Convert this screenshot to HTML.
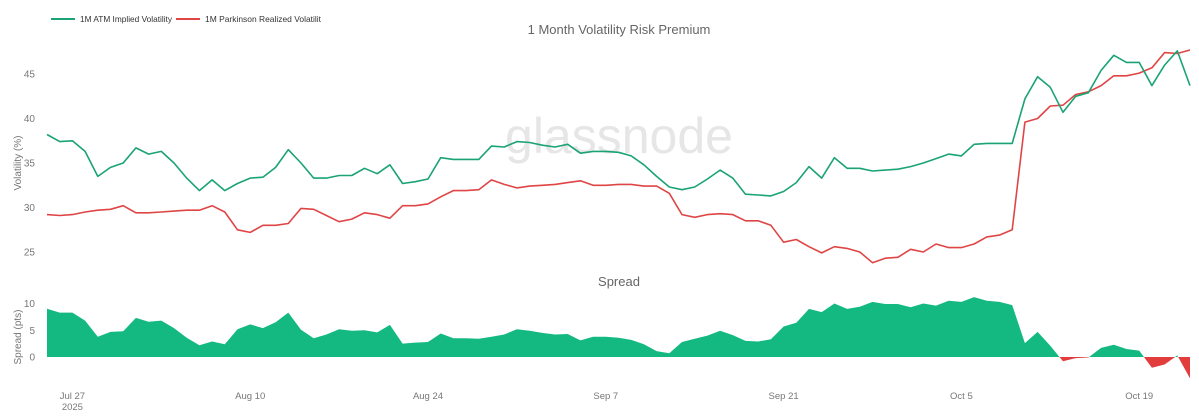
<!DOCTYPE html>
<html><head><meta charset="utf-8"><style>
body{margin:0;background:#fff;}
svg{display:block;font-family:"Liberation Sans",sans-serif;}
</style></head><body>
<svg id="chart" width="1199" height="420" viewBox="0 0 1199 420">
<text x="619" y="153" text-anchor="middle" font-size="50" fill="#e6e6e6">glassnode</text>
<g>
<line x1="51" y1="19" x2="75" y2="19" stroke="#1aa373" stroke-width="2"/>
<text x="80" y="22" font-size="8.5" fill="#333" textLength="92" lengthAdjust="spacingAndGlyphs">1M ATM Implied Volatility</text>
<line x1="176" y1="19" x2="200" y2="19" stroke="#e04545" stroke-width="2"/>
<text x="205" y="22" font-size="8.5" fill="#333" textLength="116" lengthAdjust="spacingAndGlyphs">1M Parkinson Realized Volatilit</text>
</g>
<text x="619" y="34" text-anchor="middle" font-size="13" fill="#666">1 Month Volatility Risk Premium</text>
<text x="619" y="286" text-anchor="middle" font-size="13" fill="#666">Spread</text>
<text transform="translate(21,163) rotate(-90)" text-anchor="middle" font-size="10" fill="#777">Volatility (%)</text>
<text transform="translate(21,337) rotate(-90)" text-anchor="middle" font-size="10" fill="#777">Spread (pts)</text>
<g id="yticks"></g><g id="sticks"></g><g id="xticks"></g>
<defs>
<clipPath id="clipPos"><rect x="0" y="0" width="1199" height="357"/></clipPath>
<clipPath id="clipNeg"><rect x="0" y="357" width="1199" height="63"/></clipPath>
</defs>
<g id="spread"></g>
<g id="lines"></g>
</svg>
<script>
const iv=[38.2,37.4,37.5,36.3,33.5,34.5,35.0,36.7,36.0,36.3,35.0,33.3,31.9,33.1,31.9,32.7,33.3,33.4,34.5,36.5,35.0,33.3,33.3,33.6,33.6,34.4,33.8,34.8,
32.7,32.9,33.2,35.6,35.4,35.4,35.4,36.9,36.8,37.4,37.3,37.0,36.8,37.1,36.1,36.3,36.3,36.2,35.8,34.8,33.5,32.3,32.0,32.3,33.2,34.2,33.3,31.5,31.4,31.3,31.8,32.8,
34.6,33.3,35.6,34.4,34.4,34.1,34.2,34.3,34.6,35.0,35.5,36.0,35.8,37.1,37.2,37.2,37.2,42.2,44.7,43.5,40.7,42.5,42.9,45.4,47.1,46.3,46.3,43.7,46.0,47.6,43.7];
const rv=[29.2,29.1,29.2,29.5,29.7,29.8,30.2,29.4,29.4,29.5,29.6,29.7,29.7,30.2,29.5,27.5,27.2,28.0,28.0,28.2,29.9,29.8,29.1,28.4,28.7,29.4,29.2,28.8,
30.2,30.2,30.4,31.2,31.9,31.9,32.0,33.1,32.6,32.2,32.4,32.5,32.6,32.8,33.0,32.5,32.5,32.6,32.6,32.4,32.4,31.6,29.2,28.9,29.2,29.3,29.2,28.5,28.5,28.0,26.1,26.4,
25.6,24.9,25.6,25.4,25.0,23.8,24.3,24.4,25.3,25.0,25.9,25.5,25.5,25.9,26.7,26.9,27.5,39.6,40.0,41.4,41.5,42.7,43.0,43.7,44.8,44.8,45.1,45.7,47.4,47.3,47.7];
const yTicks=[25,30,35,40,45];
const sTicks=[0,5,10];
const xLabels=[{i:2,t:"Jul 27"},{i:16,t:"Aug 10"},{i:30,t:"Aug 24"},{i:44,t:"Sep 7"},{i:58,t:"Sep 21"},{i:72,t:"Oct 5"},{i:86,t:"Oct 19"}];
const NS="http://www.w3.org/2000/svg";
const X=i=>47+i*(1190-47)/(iv.length-1);
const Y=v=>74+(45-v)*8.9;
const S=v=>357-v*5.35;
function mk(tag,attrs,parent,txt){const e=document.createElementNS(NS,tag);for(const k in attrs)e.setAttribute(k,attrs[k]);if(txt!==undefined)e.textContent=txt;document.getElementById(parent).appendChild(e);return e;}
yTicks.forEach(v=>{const e=mk('text',{x:35,y:Y(v)+3.5,'text-anchor':'end','font-size':10,fill:'#777'},'yticks',v);

});
sTicks.forEach(v=>{const e=mk('text',{x:35,y:S(v)+3.5,'text-anchor':'end','font-size':10,fill:'#777'},'sticks',v);

});
xLabels.forEach(d=>{const e=mk('text',{x:X(d.i),y:399,'text-anchor':'middle','font-size':9.5,fill:'#777'},'xticks',d.t);

});
const y25=mk('text',{x:X(2),y:410,'text-anchor':'middle','font-size':9.5,fill:'#777'},'xticks','2025');


const spread=iv.map((v,i)=>v-rv[i]);
let pts=spread.map((v,i)=>X(i).toFixed(1)+','+S(v).toFixed(1)).join(' ');
const poly=X(0)+','+S(0)+' '+pts+' '+X(spread.length-1)+','+S(0);
const pos=mk('polygon',{points:poly,fill:'#14b981','clip-path':'url(#clipPos)'},'spread');


const neg=mk('polygon',{points:poly,fill:'#e23c3c','clip-path':'url(#clipNeg)'},'spread');


const l1=mk('polyline',{points:rv.map((v,i)=>X(i).toFixed(1)+','+Y(v).toFixed(1)).join(' '),fill:'none',stroke:'#e04545','stroke-width':1.6,'stroke-linejoin':'round'},'lines');


const l2=mk('polyline',{points:iv.map((v,i)=>X(i).toFixed(1)+','+Y(v).toFixed(1)).join(' '),fill:'none',stroke:'#1aa373','stroke-width':1.6,'stroke-linejoin':'round'},'lines');


</script>
</body></html>
